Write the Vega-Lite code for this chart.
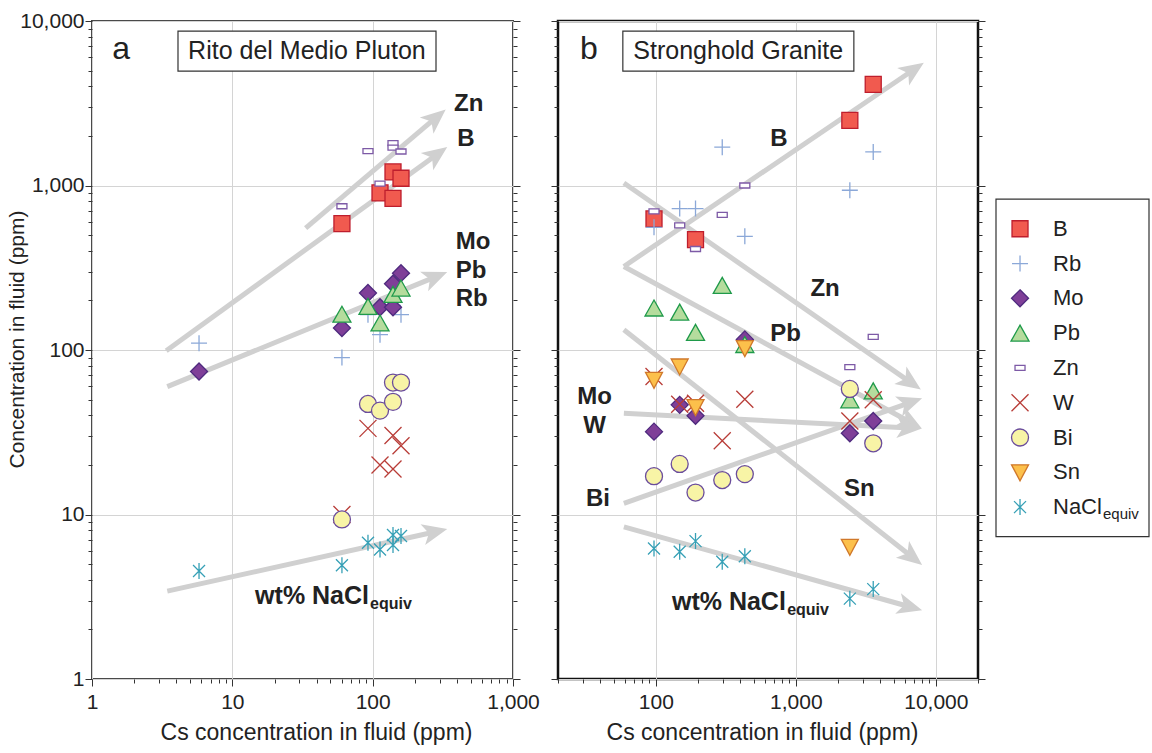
{
  "$schema": "https://vega.github.io/schema/vega-lite/v6.json",
  "background": "white",
  "padding": {"left": 5, "top": 9, "right": 0, "bottom": 0},
  "config": {
    "font": "Liberation Sans",
    "view": {"stroke": null},
    "axis": {"labelFont": "Liberation Sans", "titleFont": "Liberation Sans"}
  },
  "spacing": 45,
  "bounds": "flush",
  "resolve": {"scale": {"angle": "independent"}},
  "hconcat": [
    {
      "width": 421,
      "height": 658,
      "view": {"stroke": "#4a4a4a", "strokeWidth": 2},
      "resolve": {"axis": {"x": "independent", "y": "independent"}},
      "layer": [
        {
          "data": {"values": [{"x1": 4.1, "x2": 282.7, "y1": 4962, "y2": 8690}]},
          "mark": {"type": "rect", "fill": "white", "stroke": "#333333", "strokeWidth": 1.2},
          "encoding": {
            "x": {"field": "x1", "type": "quantitative", "scale": {"type": "log", "domain": [1, 1000], "nice": false}, "axis": null},
            "x2": {"field": "x2"},
            "y": {"field": "y1", "type": "quantitative", "scale": {"type": "log", "domain": [1, 10000], "nice": false}, "axis": null},
            "y2": {"field": "y2"}
          }
        },
        {
          "data": {"values": [{"t": "Rito del Medio Pluton", "cs": 34.0, "v": 6567}]},
          "mark": {"type": "text", "align": "center", "baseline": "middle", "color": "#222222", "fontSize": 25},
          "encoding": {
            "x": {"field": "cs", "type": "quantitative", "scale": {"type": "log", "domain": [1, 1000], "nice": false}, "axis": null},
            "y": {"field": "v", "type": "quantitative", "scale": {"type": "log", "domain": [1, 10000], "nice": false}, "axis": null},
            "text": {"field": "t"}
          }
        },
        {
          "data": {"values": [{"t": "a", "cs": 1.61, "v": 6753}]},
          "mark": {"type": "text", "align": "center", "baseline": "middle", "color": "#222222", "fontSize": 32},
          "encoding": {
            "x": {"field": "cs", "type": "quantitative", "scale": {"type": "log", "domain": [1, 1000], "nice": false}, "axis": null},
            "y": {"field": "v", "type": "quantitative", "scale": {"type": "log", "domain": [1, 10000], "nice": false}, "axis": null},
            "text": {"field": "t"}
          }
        },
        {
          "data": {"values": [
            {"arrow": "aZn", "o": 0, "cs": 33.3, "v": 551}, {"arrow": "aZn", "o": 1, "cs": 285, "v": 2603},
            {"arrow": "aB", "o": 0, "cs": 3.38, "v": 98.9}, {"arrow": "aB", "o": 1, "cs": 290, "v": 1556},
            {"arrow": "aMo", "o": 0, "cs": 3.44, "v": 59.9}, {"arrow": "aMo", "o": 1, "cs": 283.6, "v": 279.5},
            {"arrow": "aNa", "o": 0, "cs": 3.44, "v": 3.42}, {"arrow": "aNa", "o": 1, "cs": 280.9, "v": 7.86}
          ]},
          "mark": {"type": "line", "color": "#d0d0d0", "strokeWidth": 5, "strokeCap": "butt"},
          "encoding": {
            "x": {"field": "cs", "type": "quantitative", "scale": {"type": "log", "domain": [1, 1000], "nice": false}, "axis": null},
            "y": {"field": "v", "type": "quantitative", "scale": {"type": "log", "domain": [1, 10000], "nice": false},
              "axis": {"orient": "right", "values": [1,2,3,4,5,6,7,8,9,10,20,30,40,50,60,70,80,90,100,200,300,400,500,600,700,800,900,1000,2000,3000,4000,5000,6000,7000,8000,9000,10000],
                "labels": false, "title": null, "domain": false, "grid": false, "tickColor": "#333333", "tickWidth": 1,
                "tickSize": {"condition": {"test": "abs(log(datum.value)/LN10-round(log(datum.value)/LN10))<0.001", "value": 7}, "value": 4}}},
            "detail": {"field": "arrow"},
            "order": {"field": "o"}
          }
        },
        {
          "data": {"values": [
            {"arrow": "aZn", "cs": 331.5, "v": 2900}, {"arrow": "aB", "cs": 340, "v": 1717},
            {"arrow": "aMo", "cs": 340, "v": 297.7}, {"arrow": "aNa", "cs": 340, "v": 8.15}
          ]},
          "mark": {"type": "point", "shape": "M0,0L-2,-0.85L-1.5,0L-2,0.85Z", "filled": true, "color": "#d0d0d0", "size": 625, "opacity": 1, "strokeWidth": 0},
          "encoding": {
            "x": {"field": "cs", "type": "quantitative", "scale": {"type": "log", "domain": [1, 1000], "nice": false}, "axis": null},
            "y": {"field": "v", "type": "quantitative", "scale": {"type": "log", "domain": [1, 10000], "nice": false}, "axis": null},
            "angle": {"field": "arrow", "type": "nominal", "scale": {"type": "ordinal", "domain": ["aZn", "aB", "aMo", "aNa"], "range": [-40.2, -35.9, -22.2, -12.5]}, "legend": null}
          }
        },
        {
          "data": {"values": [
            {"el": "B", "cs": 60.4, "v": 587}, {"el": "B", "cs": 112.8, "v": 901}, {"el": "B", "cs": 139.6, "v": 1209}, {"el": "B", "cs": 139.6, "v": 836}, {"el": "B", "cs": 159.2, "v": 1107},
            {"el": "Rb", "cs": 5.79, "v": 110}, {"el": "Rb", "cs": 60.4, "v": 90}, {"el": "Rb", "cs": 92.6, "v": 164}, {"el": "Rb", "cs": 112.8, "v": 124}, {"el": "Rb", "cs": 139.6, "v": 187}, {"el": "Rb", "cs": 159.2, "v": 164},
            {"el": "Mo", "cs": 5.79, "v": 74}, {"el": "Mo", "cs": 60.4, "v": 136}, {"el": "Mo", "cs": 92.6, "v": 222}, {"el": "Mo", "cs": 112.8, "v": 182}, {"el": "Mo", "cs": 139.6, "v": 182}, {"el": "Mo", "cs": 139.6, "v": 253}, {"el": "Mo", "cs": 159.2, "v": 293},
            {"el": "Pb", "cs": 60.4, "v": 165}, {"el": "Pb", "cs": 92.6, "v": 184}, {"el": "Pb", "cs": 112.8, "v": 146}, {"el": "Pb", "cs": 139.6, "v": 218}, {"el": "Pb", "cs": 159.2, "v": 238},
            {"el": "Zn", "cs": 60.4, "v": 748}, {"el": "Zn", "cs": 92.6, "v": 1617}, {"el": "Zn", "cs": 112.8, "v": 1028}, {"el": "Zn", "cs": 139.6, "v": 1808}, {"el": "Zn", "cs": 139.6, "v": 1700}, {"el": "Zn", "cs": 159.2, "v": 1610},
            {"el": "W", "cs": 60.4, "v": 10}, {"el": "W", "cs": 92.6, "v": 33.4}, {"el": "W", "cs": 112.8, "v": 20}, {"el": "W", "cs": 139.6, "v": 30.2}, {"el": "W", "cs": 139.6, "v": 18.9}, {"el": "W", "cs": 159.2, "v": 26.2},
            {"el": "Bi", "cs": 60.4, "v": 9.33}, {"el": "Bi", "cs": 92.6, "v": 47}, {"el": "Bi", "cs": 112.8, "v": 42.8}, {"el": "Bi", "cs": 139.6, "v": 48.4}, {"el": "Bi", "cs": 139.6, "v": 63.4}, {"el": "Bi", "cs": 159.2, "v": 63.4},
            {"el": "NaCl", "cs": 5.79, "v": 4.53}, {"el": "NaCl", "cs": 60.4, "v": 4.92}, {"el": "NaCl", "cs": 92.6, "v": 6.73}, {"el": "NaCl", "cs": 112.8, "v": 6.13}, {"el": "NaCl", "cs": 139.6, "v": 7.5}, {"el": "NaCl", "cs": 139.6, "v": 6.52}, {"el": "NaCl", "cs": 159.2, "v": 7.4}
          ]},
          "mark": {"type": "point", "filled": true, "opacity": 1, "size": 400, "strokeWidth": 1.3},
          "encoding": {
            "x": {"field": "cs", "type": "quantitative", "scale": {"type": "log", "domain": [1, 1000], "nice": false},
              "axis": {"orient": "bottom", "values": [1,2,3,4,5,6,7,8,9,10,20,30,40,50,60,70,80,90,100,200,300,400,500,600,700,800,900,1000],
                "title": "Cs concentration in fluid (ppm)",
                "labelExpr": "abs(log(datum.value)/LN10-round(log(datum.value)/LN10))<0.001 ? format(datum.value, ',') : ''",
                "labelFontSize": 21, "labelColor": "#222222", "labelPadding": 5, "labelOverlap": false, "labelFlush": false, "labelBound": false,
                "tickColor": "#333333", "tickWidth": 1,
                "tickSize": {"condition": {"test": "abs(log(datum.value)/LN10-round(log(datum.value)/LN10))<0.001", "value": 7}, "value": 4},
                "domain": false, "grid": true, "gridColor": "#d4d4d4", "gridWidth": 1,
                "gridOpacity": {"condition": {"test": "abs(log(datum.value)/LN10-round(log(datum.value)/LN10))<0.001", "value": 1}, "value": 0},
                "titleFontSize": 23, "titleFontWeight": "normal", "titleColor": "#222222", "titlePadding": 9, "titleX": 224}},
            "y": {"field": "v", "type": "quantitative", "scale": {"type": "log", "domain": [1, 10000], "nice": false},
              "axis": {"orient": "left", "values": [1,2,3,4,5,6,7,8,9,10,20,30,40,50,60,70,80,90,100,200,300,400,500,600,700,800,900,1000,2000,3000,4000,5000,6000,7000,8000,9000,10000],
                "title": "Concentration in fluid (ppm)",
                "labelExpr": "abs(log(datum.value)/LN10-round(log(datum.value)/LN10))<0.001 ? format(datum.value, ',') : ''",
                "labelFontSize": 21, "labelColor": "#222222", "labelPadding": 1, "labelOverlap": false, "labelFlush": false, "labelBound": false,
                "tickColor": "#333333", "tickWidth": 1,
                "tickSize": {"condition": {"test": "abs(log(datum.value)/LN10-round(log(datum.value)/LN10))<0.001", "value": 7}, "value": 4},
                "domain": false, "grid": true, "gridColor": "#d4d4d4", "gridWidth": 1,
                "gridOpacity": {"condition": {"test": "abs(log(datum.value)/LN10-round(log(datum.value)/LN10))<0.001", "value": 1}, "value": 0},
                "titleFontSize": 21, "titleFontWeight": "normal", "titleColor": "#222222", "titlePadding": -8, "titleY": 318}},
            "shape": {"field": "el", "type": "nominal", "scale": {"domain": ["B","Rb","Mo","Pb","Zn","W","Bi","Sn","NaCl"], "range": ["M-0.8,-0.8L0.8,-0.8L0.8,0.8L-0.8,0.8Z","M-0.8,0L0.8,0M0,-0.8L0,0.8","M0,-0.85L0.85,0L0,0.85L-0.85,0Z","M0,-0.8L0.9,0.8L-0.9,0.8Z","M-0.5,-0.25L0.5,-0.25L0.5,0.25L-0.5,0.25Z","M-0.85,-0.85L0.85,0.85M-0.85,0.85L0.85,-0.85","M-0.85,0A0.85,0.85 0 1,0 0.85,0A0.85,0.85 0 1,0 -0.85,0Z","M-0.85,-0.75L0.85,-0.75L0,0.85Z","M-0.6,-0.6L0.6,0.6M-0.6,0.6L0.6,-0.6M0,-0.8L0,0.8"]}, "legend": null},
            "fill": {"field": "el", "type": "nominal", "scale": {"domain": ["B","Rb","Mo","Pb","Zn","W","Bi","Sn","NaCl"], "range": ["#f15a4f","transparent","#7f3f98","#b5dc9d","#ffffff","transparent","#f8f4a6","#fcc04b","transparent"]}, "legend": null},
            "stroke": {"field": "el", "type": "nominal", "scale": {"domain": ["B","Rb","Mo","Pb","Zn","W","Bi","Sn","NaCl"], "range": ["#be1e2d","#8ba8d8","#4e2a7e","#1f9a4a","#7d5aa6","#b83c37","#6a4c9c","#d0782a","#36a0b6"]}, "legend": null}
          }
        },
        {
          "data": {"values": [
            {"t": "Zn", "cs": 379.8, "v": 3112}, {"t": "B", "cs": 401, "v": 1905},
            {"t": "Mo", "cs": 390.7, "v": 452.6}, {"t": "Pb", "cs": 390.7, "v": 304}, {"t": "Rb", "cs": 390.7, "v": 204.4}
          ]},
          "mark": {"type": "text", "align": "left", "baseline": "middle", "fontWeight": "bold", "fontSize": 24, "color": "#222222"},
          "encoding": {
            "x": {"field": "cs", "type": "quantitative", "scale": {"type": "log", "domain": [1, 1000], "nice": false}, "axis": null},
            "y": {"field": "v", "type": "quantitative", "scale": {"type": "log", "domain": [1, 10000], "nice": false}, "axis": null},
            "text": {"field": "t"}
          }
        },
        {
          "data": {"values": [{"t": "wt% NaCl", "cs": 94.2, "v": 2.874}]},
          "mark": {"type": "text", "align": "right", "baseline": "alphabetic", "fontWeight": "bold", "fontSize": 25, "color": "#222222"},
          "encoding": {
            "x": {"field": "cs", "type": "quantitative", "scale": {"type": "log", "domain": [1, 1000], "nice": false}, "axis": null},
            "y": {"field": "v", "type": "quantitative", "scale": {"type": "log", "domain": [1, 10000], "nice": false}, "axis": null},
            "text": {"field": "t"}
          }
        },
        {
          "data": {"values": [{"t": "equiv", "cs": 95.7, "v": 2.679}]},
          "mark": {"type": "text", "align": "left", "baseline": "alphabetic", "fontWeight": "bold", "fontSize": 16, "color": "#222222"},
          "encoding": {
            "x": {"field": "cs", "type": "quantitative", "scale": {"type": "log", "domain": [1, 1000], "nice": false}, "axis": null},
            "y": {"field": "v", "type": "quantitative", "scale": {"type": "log", "domain": [1, 10000], "nice": false}, "axis": null},
            "text": {"field": "t"}
          }
        }
      ]
    },
    {
      "hconcat": [
        {
          "width": 420,
          "height": 658,
          "view": {"stroke": "#111111", "strokeWidth": 2.5},
          "resolve": {"axis": {"x": "independent", "y": "independent"}},
          "layer": [
            {
              "data": {"values": [{"x1": 58.1, "x2": 2596, "y1": 4962, "y2": 8690}]},
              "mark": {"type": "rect", "fill": "white", "stroke": "#333333", "strokeWidth": 1.2},
              "encoding": {
                "x": {"field": "x1", "type": "quantitative", "scale": {"type": "log", "domain": [20, 20000], "nice": false}, "axis": null},
                "x2": {"field": "x2"},
                "y": {"field": "y1", "type": "quantitative", "scale": {"type": "log", "domain": [1, 10000], "nice": false}, "axis": null},
                "y2": {"field": "y2"}
              }
            },
            {
              "data": {"values": [{"t": "Stronghold Granite", "cs": 388, "v": 6567}]},
              "mark": {"type": "text", "align": "center", "baseline": "middle", "color": "#222222", "fontSize": 25},
              "encoding": {
                "x": {"field": "cs", "type": "quantitative", "scale": {"type": "log", "domain": [20, 20000], "nice": false}, "axis": null},
                "y": {"field": "v", "type": "quantitative", "scale": {"type": "log", "domain": [1, 10000], "nice": false}, "axis": null},
                "text": {"field": "t"}
              }
            },
            {
              "data": {"values": [{"t": "b", "cs": 33.2, "v": 6753}]},
              "mark": {"type": "text", "align": "center", "baseline": "middle", "color": "#222222", "fontSize": 32},
              "encoding": {
                "x": {"field": "cs", "type": "quantitative", "scale": {"type": "log", "domain": [20, 20000], "nice": false}, "axis": null},
                "y": {"field": "v", "type": "quantitative", "scale": {"type": "log", "domain": [1, 10000], "nice": false}, "axis": null},
                "text": {"field": "t"}
              }
            },
            {
              "data": {"values": [
                {"arrow": "bB", "o": 0, "cs": 59.1, "v": 322}, {"arrow": "bB", "o": 1, "cs": 6977, "v": 5074},
                {"arrow": "bZn", "o": 0, "cs": 59.1, "v": 1036}, {"arrow": "bZn", "o": 1, "cs": 6637, "v": 63.3},
                {"arrow": "bPb", "o": 0, "cs": 59.1, "v": 322}, {"arrow": "bPb", "o": 1, "cs": 6683, "v": 36.1},
                {"arrow": "bMoW", "o": 0, "cs": 59.1, "v": 41.2}, {"arrow": "bMoW", "o": 1, "cs": 6522, "v": 33.6},
                {"arrow": "bBi", "o": 0, "cs": 59.1, "v": 11.7}, {"arrow": "bBi", "o": 1, "cs": 6627, "v": 48.1},
                {"arrow": "bSn", "o": 0, "cs": 59.1, "v": 132.7}, {"arrow": "bSn", "o": 1, "cs": 6839, "v": 5.48},
                {"arrow": "bNa", "o": 0, "cs": 59.1, "v": 8.42}, {"arrow": "bNa", "o": 1, "cs": 6595, "v": 2.74}
              ]},
              "mark": {"type": "line", "color": "#d0d0d0", "strokeWidth": 5, "strokeCap": "butt"},
              "encoding": {
                "x": {"field": "cs", "type": "quantitative", "scale": {"type": "log", "domain": [20, 20000], "nice": false}, "axis": null},
                "y": {"field": "v", "type": "quantitative", "scale": {"type": "log", "domain": [1, 10000], "nice": false},
                  "axis": {"orient": "right", "values": [1,2,3,4,5,6,7,8,9,10,20,30,40,50,60,70,80,90,100,200,300,400,500,600,700,800,900,1000,2000,3000,4000,5000,6000,7000,8000,9000,10000],
                    "labels": false, "title": null, "domain": false, "grid": false, "tickColor": "#333333", "tickWidth": 1,
                    "tickSize": {"condition": {"test": "abs(log(datum.value)/LN10-round(log(datum.value)/LN10))<0.001", "value": 7}, "value": 4}}},
                "detail": {"field": "arrow"},
                "order": {"field": "o"}
              }
            },
            {
              "data": {"values": [
                {"arrow": "bB", "cs": 8204, "v": 5572}, {"arrow": "bZn", "cs": 7816, "v": 57.5},
                {"arrow": "bPb", "cs": 7943, "v": 33.3}, {"arrow": "bMoW", "cs": 7943, "v": 33.3},
                {"arrow": "bBi", "cs": 7980, "v": 50.9}, {"arrow": "bSn", "cs": 7980, "v": 4.94},
                {"arrow": "bNa", "cs": 7980, "v": 2.62}
              ]},
              "mark": {"type": "point", "shape": "M0,0L-2,-0.85L-1.5,0L-2,0.85Z", "filled": true, "color": "#d0d0d0", "size": 625, "opacity": 1, "strokeWidth": 0},
              "encoding": {
                "x": {"field": "cs", "type": "quantitative", "scale": {"type": "log", "domain": [20, 20000], "nice": false}, "axis": null},
                "y": {"field": "v", "type": "quantitative", "scale": {"type": "log", "domain": [1, 10000], "nice": false}, "axis": null},
                "angle": {"field": "arrow", "type": "nominal", "scale": {"type": "ordinal", "domain": ["bB", "bZn", "bPb", "bMoW", "bBi", "bSn", "bNa"], "range": [-34.1, 34.8, 28.5, 2.9, -19.4, 38.2, 15.6]}, "legend": null}
              }
            },
            {
              "data": {"values": [
                {"el": "B", "cs": 97, "v": 626}, {"el": "B", "cs": 192, "v": 469}, {"el": "B", "cs": 2430, "v": 2486}, {"el": "B", "cs": 3570, "v": 4118},
                {"el": "Rb", "cs": 97, "v": 557}, {"el": "Rb", "cs": 148, "v": 724}, {"el": "Rb", "cs": 192, "v": 724}, {"el": "Rb", "cs": 298, "v": 1709}, {"el": "Rb", "cs": 432, "v": 491}, {"el": "Rb", "cs": 2430, "v": 936}, {"el": "Rb", "cs": 3570, "v": 1601},
                {"el": "Mo", "cs": 97, "v": 31.9}, {"el": "Mo", "cs": 148, "v": 46.4}, {"el": "Mo", "cs": 192, "v": 39.8}, {"el": "Mo", "cs": 432, "v": 116}, {"el": "Mo", "cs": 2430, "v": 31.2}, {"el": "Mo", "cs": 3570, "v": 37},
                {"el": "Pb", "cs": 97, "v": 180}, {"el": "Pb", "cs": 148, "v": 170}, {"el": "Pb", "cs": 192, "v": 128}, {"el": "Pb", "cs": 298, "v": 247}, {"el": "Pb", "cs": 432, "v": 108}, {"el": "Pb", "cs": 2430, "v": 49.8}, {"el": "Pb", "cs": 3570, "v": 56.4},
                {"el": "Zn", "cs": 97, "v": 697}, {"el": "Zn", "cs": 148, "v": 573}, {"el": "Zn", "cs": 192, "v": 411}, {"el": "Zn", "cs": 298, "v": 662}, {"el": "Zn", "cs": 432, "v": 1000}, {"el": "Zn", "cs": 2430, "v": 78.6}, {"el": "Zn", "cs": 3570, "v": 120},
                {"el": "W", "cs": 97, "v": 69}, {"el": "W", "cs": 148, "v": 46.8}, {"el": "W", "cs": 192, "v": 47.5}, {"el": "W", "cs": 298, "v": 28.1}, {"el": "W", "cs": 432, "v": 50.2}, {"el": "W", "cs": 2430, "v": 37}, {"el": "W", "cs": 3570, "v": 49.8},
                {"el": "Bi", "cs": 97, "v": 17.1}, {"el": "Bi", "cs": 148, "v": 20.3}, {"el": "Bi", "cs": 192, "v": 13.6}, {"el": "Bi", "cs": 298, "v": 16.2}, {"el": "Bi", "cs": 432, "v": 17.6}, {"el": "Bi", "cs": 2430, "v": 58}, {"el": "Bi", "cs": 3570, "v": 27.1},
                {"el": "Sn", "cs": 97, "v": 65.9}, {"el": "Sn", "cs": 148, "v": 79.4}, {"el": "Sn", "cs": 192, "v": 45}, {"el": "Sn", "cs": 432, "v": 102.6}, {"el": "Sn", "cs": 2430, "v": 6.36},
                {"el": "NaCl", "cs": 97, "v": 6.21}, {"el": "NaCl", "cs": 148, "v": 5.93}, {"el": "NaCl", "cs": 192, "v": 6.89}, {"el": "NaCl", "cs": 298, "v": 5.16}, {"el": "NaCl", "cs": 432, "v": 5.58}, {"el": "NaCl", "cs": 2430, "v": 3.08}, {"el": "NaCl", "cs": 3570, "v": 3.52}
              ]},
              "mark": {"type": "point", "filled": true, "opacity": 1, "size": 400, "strokeWidth": 1.3},
              "encoding": {
                "x": {"field": "cs", "type": "quantitative", "scale": {"type": "log", "domain": [20, 20000], "nice": false},
                  "axis": {"orient": "bottom", "values": [20,30,40,50,60,70,80,90,100,200,300,400,500,600,700,800,900,1000,2000,3000,4000,5000,6000,7000,8000,9000,10000,20000],
                    "title": "Cs concentration in fluid (ppm)",
                    "labelExpr": "abs(log(datum.value)/LN10-round(log(datum.value)/LN10))<0.001 ? format(datum.value, ',') : ''",
                    "labelFontSize": 21, "labelColor": "#222222", "labelPadding": 5, "labelOverlap": false, "labelFlush": false, "labelBound": false,
                    "tickColor": "#333333", "tickWidth": 1,
                    "tickSize": {"condition": {"test": "abs(log(datum.value)/LN10-round(log(datum.value)/LN10))<0.001", "value": 7}, "value": 4},
                    "domain": false, "grid": true, "gridColor": "#d4d4d4", "gridWidth": 1,
                    "gridOpacity": {"condition": {"test": "abs(log(datum.value)/LN10-round(log(datum.value)/LN10))<0.001", "value": 1}, "value": 0},
                    "titleFontSize": 23, "titleFontWeight": "normal", "titleColor": "#222222", "titlePadding": 9, "titleX": 204}},
                "y": {"field": "v", "type": "quantitative", "scale": {"type": "log", "domain": [1, 10000], "nice": false},
                  "axis": {"orient": "left", "values": [1,2,3,4,5,6,7,8,9,10,20,30,40,50,60,70,80,90,100,200,300,400,500,600,700,800,900,1000,2000,3000,4000,5000,6000,7000,8000,9000,10000],
                    "title": null, "labels": false,
                    "tickColor": "#333333", "tickWidth": 1,
                    "tickSize": {"condition": {"test": "abs(log(datum.value)/LN10-round(log(datum.value)/LN10))<0.001", "value": 7}, "value": 4},
                    "domain": false, "grid": true, "gridColor": "#d4d4d4", "gridWidth": 1,
                    "gridOpacity": {"condition": {"test": "abs(log(datum.value)/LN10-round(log(datum.value)/LN10))<0.001", "value": 1}, "value": 0}}},
                "shape": {"field": "el", "type": "nominal", "scale": {"domain": ["B","Rb","Mo","Pb","Zn","W","Bi","Sn","NaCl"], "range": ["M-0.8,-0.8L0.8,-0.8L0.8,0.8L-0.8,0.8Z","M-0.8,0L0.8,0M0,-0.8L0,0.8","M0,-0.85L0.85,0L0,0.85L-0.85,0Z","M0,-0.8L0.9,0.8L-0.9,0.8Z","M-0.5,-0.25L0.5,-0.25L0.5,0.25L-0.5,0.25Z","M-0.85,-0.85L0.85,0.85M-0.85,0.85L0.85,-0.85","M-0.85,0A0.85,0.85 0 1,0 0.85,0A0.85,0.85 0 1,0 -0.85,0Z","M-0.85,-0.75L0.85,-0.75L0,0.85Z","M-0.6,-0.6L0.6,0.6M-0.6,0.6L0.6,-0.6M0,-0.8L0,0.8"]}, "legend": null},
                "fill": {"field": "el", "type": "nominal", "scale": {"domain": ["B","Rb","Mo","Pb","Zn","W","Bi","Sn","NaCl"], "range": ["#f15a4f","transparent","#7f3f98","#b5dc9d","#ffffff","transparent","#f8f4a6","#fcc04b","transparent"]}, "legend": null},
                "stroke": {"field": "el", "type": "nominal", "scale": {"domain": ["B","Rb","Mo","Pb","Zn","W","Bi","Sn","NaCl"], "range": ["#be1e2d","#8ba8d8","#4e2a7e","#1f9a4a","#7d5aa6","#b83c37","#6a4c9c","#d0782a","#36a0b6"]}, "legend": null}
              }
            },
            {
              "data": {"values": [
                {"t": "B", "cs": 756, "v": 1926}, {"t": "Zn", "cs": 1617, "v": 235}, {"t": "Pb", "cs": 844, "v": 125.2},
                {"t": "Mo", "cs": 36.5, "v": 51.5}, {"t": "W", "cs": 36.5, "v": 34.6}, {"t": "Bi", "cs": 38.6, "v": 12.38}, {"t": "Sn", "cs": 2842, "v": 14.3}
              ]},
              "mark": {"type": "text", "align": "center", "baseline": "middle", "fontWeight": "bold", "fontSize": 24, "color": "#222222"},
              "encoding": {
                "x": {"field": "cs", "type": "quantitative", "scale": {"type": "log", "domain": [20, 20000], "nice": false}, "axis": null},
                "y": {"field": "v", "type": "quantitative", "scale": {"type": "log", "domain": [1, 10000], "nice": false}, "axis": null},
                "text": {"field": "t"}
              }
            },
            {
              "data": {"values": [{"t": "wt% NaCl", "cs": 848.5, "v": 2.62}]},
              "mark": {"type": "text", "align": "right", "baseline": "alphabetic", "fontWeight": "bold", "fontSize": 25, "color": "#222222"},
              "encoding": {
                "x": {"field": "cs", "type": "quantitative", "scale": {"type": "log", "domain": [20, 20000], "nice": false}, "axis": null},
                "y": {"field": "v", "type": "quantitative", "scale": {"type": "log", "domain": [1, 10000], "nice": false}, "axis": null},
                "text": {"field": "t"}
              }
            },
            {
              "data": {"values": [{"t": "equiv", "cs": 866.8, "v": 2.442}]},
              "mark": {"type": "text", "align": "left", "baseline": "alphabetic", "fontWeight": "bold", "fontSize": 16, "color": "#222222"},
              "encoding": {
                "x": {"field": "cs", "type": "quantitative", "scale": {"type": "log", "domain": [20, 20000], "nice": false}, "axis": null},
                "y": {"field": "v", "type": "quantitative", "scale": {"type": "log", "domain": [1, 10000], "nice": false}, "axis": null},
                "text": {"field": "t"}
              }
            }
          ]
        },
        {
          "width": 153,
          "height": 658,
          "data": {"values": [
            {"el": "B", "i": 0, "label": "B"}, {"el": "Rb", "i": 1, "label": "Rb"}, {"el": "Mo", "i": 2, "label": "Mo"},
            {"el": "Pb", "i": 3, "label": "Pb"}, {"el": "Zn", "i": 4, "label": "Zn"}, {"el": "W", "i": 5, "label": "W"},
            {"el": "Bi", "i": 6, "label": "Bi"}, {"el": "Sn", "i": 7, "label": "Sn"}, {"el": "NaCl", "i": 8, "label": "NaCl"}
          ]},
          "layer": [
            {
              "data": {"values": [{"x1": 0, "x2": 1, "y1": -0.85, "y2": 8.85}]},
              "mark": {"type": "rect", "fill": "white", "stroke": "#333333", "strokeWidth": 1.2},
              "encoding": {
                "x": {"field": "x1", "type": "quantitative", "scale": {"domain": [0, 1], "nice": false, "zero": false}, "axis": null},
                "x2": {"field": "x2"},
                "y": {"field": "y1", "type": "quantitative", "scale": {"domain": [-5.97, 12.94], "nice": false, "zero": false, "reverse": true}, "axis": null},
                "y2": {"field": "y2"}
              }
            },
            {
              "mark": {"type": "point", "filled": true, "opacity": 1, "size": 400, "strokeWidth": 1.3},
              "encoding": {
                "x": {"datum": 0.157, "type": "quantitative", "scale": {"domain": [0, 1], "nice": false, "zero": false}, "axis": null},
                "y": {"field": "i", "type": "quantitative", "scale": {"domain": [-5.97, 12.94], "nice": false, "zero": false, "reverse": true}, "axis": null},
                "shape": {"field": "el", "type": "nominal", "scale": {"domain": ["B","Rb","Mo","Pb","Zn","W","Bi","Sn","NaCl"], "range": ["M-0.8,-0.8L0.8,-0.8L0.8,0.8L-0.8,0.8Z","M-0.8,0L0.8,0M0,-0.8L0,0.8","M0,-0.85L0.85,0L0,0.85L-0.85,0Z","M0,-0.8L0.9,0.8L-0.9,0.8Z","M-0.5,-0.25L0.5,-0.25L0.5,0.25L-0.5,0.25Z","M-0.85,-0.85L0.85,0.85M-0.85,0.85L0.85,-0.85","M-0.85,0A0.85,0.85 0 1,0 0.85,0A0.85,0.85 0 1,0 -0.85,0Z","M-0.85,-0.75L0.85,-0.75L0,0.85Z","M-0.6,-0.6L0.6,0.6M-0.6,0.6L0.6,-0.6M0,-0.8L0,0.8"]}, "legend": null},
                "fill": {"field": "el", "type": "nominal", "scale": {"domain": ["B","Rb","Mo","Pb","Zn","W","Bi","Sn","NaCl"], "range": ["#f15a4f","transparent","#7f3f98","#b5dc9d","#ffffff","transparent","#f8f4a6","#fcc04b","transparent"]}, "legend": null},
                "stroke": {"field": "el", "type": "nominal", "scale": {"domain": ["B","Rb","Mo","Pb","Zn","W","Bi","Sn","NaCl"], "range": ["#be1e2d","#8ba8d8","#4e2a7e","#1f9a4a","#7d5aa6","#b83c37","#6a4c9c","#d0782a","#36a0b6"]}, "legend": null}
              }
            },
            {
              "mark": {"type": "text", "align": "left", "baseline": "middle", "fontSize": 22, "color": "#222222"},
              "encoding": {
                "x": {"datum": 0.3725, "type": "quantitative", "scale": {"domain": [0, 1], "nice": false, "zero": false}, "axis": null},
                "y": {"field": "i", "type": "quantitative", "scale": {"domain": [-5.97, 12.94], "nice": false, "zero": false, "reverse": true}, "axis": null},
                "text": {"field": "label"}
              }
            },
            {
              "transform": [{"filter": "datum.el == 'NaCl'"}],
              "mark": {"type": "text", "align": "left", "baseline": "middle", "fontSize": 15, "color": "#222222", "dx": 50, "dy": 7},
              "encoding": {
                "x": {"datum": 0.3725, "type": "quantitative", "scale": {"domain": [0, 1], "nice": false, "zero": false}, "axis": null},
                "y": {"field": "i", "type": "quantitative", "scale": {"domain": [-5.97, 12.94], "nice": false, "zero": false, "reverse": true}, "axis": null},
                "text": {"value": "equiv"}
              }
            }
          ]
        }
      ],
      "spacing": 18,
      "bounds": "flush"
    }
  ]
}
